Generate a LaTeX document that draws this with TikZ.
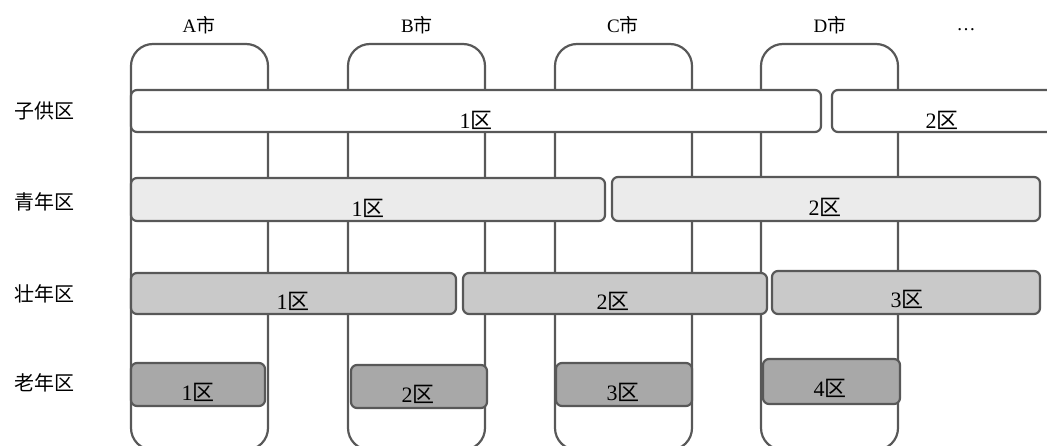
\documentclass[tikz,border=0pt]{standalone}
\usepackage{fontspec}
\setmainfont{Liberation Serif}
\newfontfamily\cjk{Noto Sans CJK SC}
\definecolor{linec}{HTML}{585858}
\definecolor{fillb}{HTML}{EBEBEB}
\definecolor{fillc}{HTML}{C9C9C9}
\definecolor{filld}{HTML}{A8A8A8}
\tikzset{
  city/.style={draw=linec, line width=2.2pt, rounded corners=22pt, fill=white,
    minimum width=137pt, minimum height=406pt, inner sep=0pt, outer sep=0pt, anchor=north west},
  bar/.style={draw=linec, line width=2.2pt, rounded corners=6pt, inner sep=0pt,
    outer sep=0pt, anchor=north west},
  citylab/.style={font=\fontsize{19}{19}\selectfont, inner sep=0pt},
  rowlab/.style={font=\fontsize{20}{20}\selectfont\cjk, inner sep=0pt},
  barlab/.style={font=\fontsize{22}{22}\selectfont, inner sep=0pt},
}
\begin{document}
\begin{tikzpicture}[x=1pt,y=-1pt]
\useasboundingbox (0,0) rectangle (1047,446);
\clip (0,0) rectangle (1047,446);
\fill[white] (0,0) rectangle (1047,446);
% city columns
\node[city] (colA) at (131,44) {};
\node[city] (colB) at (348,44) {};
\node[city] (colC) at (555,44) {};
\node[city] (colD) at (761,44) {};
% city labels
\node[citylab] (labA) at (199,25) {A{\cjk 市}};
\node[citylab] (labB) at (417,25) {B{\cjk 市}};
\node[citylab] (labC) at (623,25) {C{\cjk 市}};
\node[citylab] (labD) at (830,25) {D{\cjk 市}};
\node[citylab] (labE) at (966,30) {\dots};
% row labels
\node[rowlab] (r1) at (44,111) {子供区};
\node[rowlab] (r2) at (44,202) {青年区};
\node[rowlab] (r3) at (44,294) {壮年区};
\node[rowlab] (r4) at (44,383) {老年区};
% row 1
\node[bar, fill=white, minimum width=690pt, minimum height=42pt] (a1) at (131,90) {};
\node[bar, fill=white, minimum width=240pt, minimum height=42pt] (a2) at (832,90) {};
\node[barlab] (a1l) at (476,120) {1{\cjk 区}};
\node[barlab] (a2l) at (942,120) {2{\cjk 区}};
% row 2
\node[bar, fill=fillb, minimum width=474pt, minimum height=43pt] (b1) at (131,178) {};
\node[bar, fill=fillb, minimum width=428pt, minimum height=44pt] (b2) at (612,177) {};
\node[barlab] (b1l) at (368,208) {1{\cjk 区}};
\node[barlab] (b2l) at (825,207) {2{\cjk 区}};
% row 3
\node[bar, fill=fillc, minimum width=325pt, minimum height=41pt] (c1) at (131,273) {};
\node[bar, fill=fillc, minimum width=304pt, minimum height=41pt] (c2) at (463,273) {};
\node[bar, fill=fillc, minimum width=268pt, minimum height=43pt] (c3) at (772,271) {};
\node[barlab] (c1l) at (293,301) {1{\cjk 区}};
\node[barlab] (c2l) at (613,301) {2{\cjk 区}};
\node[barlab] (c3l) at (907,299) {3{\cjk 区}};
% row 4
\node[bar, fill=filld, minimum width=134pt, minimum height=43pt] (d1) at (131,363) {};
\node[bar, fill=filld, minimum width=136pt, minimum height=43pt] (d2) at (351,365) {};
\node[bar, fill=filld, minimum width=136pt, minimum height=43pt] (d3) at (556,363) {};
\node[bar, fill=filld, minimum width=137pt, minimum height=45pt] (d4) at (763,359) {};
\node[barlab] (d1l) at (198,392) {1{\cjk 区}};
\node[barlab] (d2l) at (418,394) {2{\cjk 区}};
\node[barlab] (d3l) at (623,392) {3{\cjk 区}};
\node[barlab] (d4l) at (830,388) {4{\cjk 区}};
\end{tikzpicture}
\end{document}
